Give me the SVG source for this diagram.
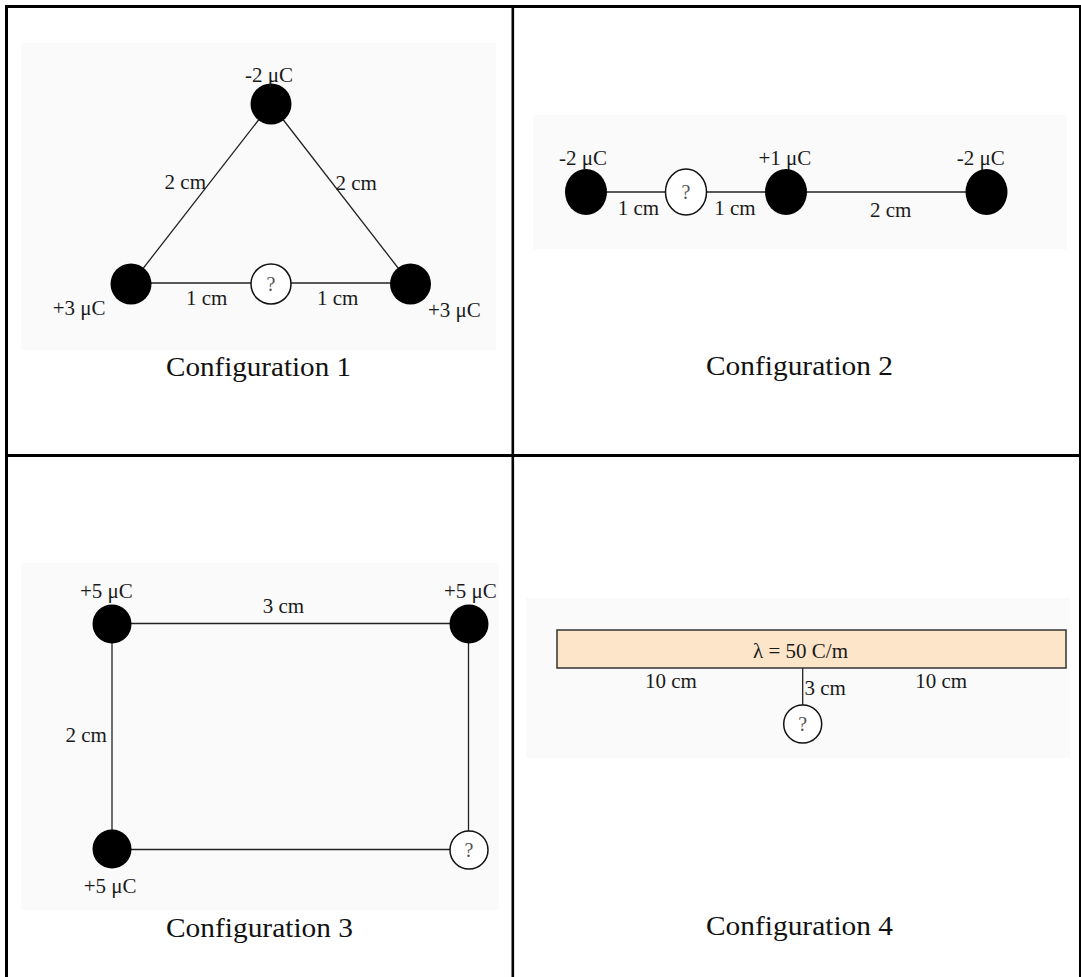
<svg xmlns="http://www.w3.org/2000/svg" width="1081" height="977" viewBox="0 0 1081 977">
<style>
.bg{fill:#fafafa}
.lbl{font-family:"Liberation Serif","Times New Roman",serif;font-size:21px;fill:#1a1a1a}
.q{font-family:"Liberation Serif","Times New Roman",serif;font-size:20px;fill:#555;text-anchor:middle}
.cap{font-family:"Liberation Serif","Palatino Linotype",serif;font-size:28px;fill:#111}
.chg{fill:#000}
.unk{fill:#fff;stroke:#111;stroke-width:1.5}
.wire{stroke:#222;stroke-width:1.3;fill:none}
.grid{stroke:#000;fill:none}
</style>
<rect x="0" y="0" width="1081" height="977" fill="#fff"/>
<g id="table">
<line class="grid" x1="6.5" y1="5" x2="6.5" y2="977" stroke-width="3"/>
<line class="grid" x1="5" y1="6.5" x2="1081" y2="6.5" stroke-width="3"/>
<line class="grid" x1="1080" y1="5" x2="1080" y2="977" stroke-width="2"/>
<line class="grid" x1="512.8" y1="5" x2="512.8" y2="977" stroke-width="2.6"/>
<line class="grid" x1="5" y1="455.5" x2="1081" y2="455.5" stroke-width="3.2"/>
</g>
<g id="backgrounds">
<rect class="bg" x="21" y="43" width="475" height="307"/>
<rect class="bg" x="533" y="115" width="534" height="134"/>
<rect class="bg" x="21" y="563" width="478" height="347"/>
<rect class="bg" x="526" y="598" width="544" height="160"/>
</g>
<g id="connectors">
<line class="wire" x1="271" y1="104" x2="131" y2="284"/>
<line class="wire" x1="271" y1="104" x2="410.5" y2="284"/>
<line class="wire" x1="131" y1="283" x2="410.5" y2="283"/>
<line class="wire" x1="586" y1="192" x2="986.5" y2="192"/>
<line class="wire" x1="112" y1="623.5" x2="469" y2="623.5"/>
<line class="wire" x1="112" y1="849.5" x2="469" y2="849.5"/>
<line class="wire" x1="112" y1="624" x2="112" y2="849"/>
<line class="wire" x1="468.5" y1="624" x2="468.5" y2="850"/>
<line class="wire" x1="802.7" y1="668" x2="802.7" y2="705"/>
</g>
<g id="config1">
<g id="c1-top"><circle class="chg" cx="271" cy="104" r="20.5"/><text class="lbl" x="245" y="82">-2 μC</text></g>
<g id="c1-left"><circle class="chg" cx="131" cy="284" r="20.5"/><text class="lbl" x="52.7" y="315">+3 μC</text></g>
<g id="c1-right"><circle class="chg" cx="410.5" cy="284" r="20.5"/><text class="lbl" x="428" y="316.5">+3 μC</text></g>
<g id="c1-q"><circle class="unk" cx="271" cy="284" r="20"/><text class="q" x="271" y="291">?</text></g>
<text class="lbl" x="164.6" y="189">2 cm</text>
<text class="lbl" x="335.5" y="190">2 cm</text>
<text class="lbl" x="186" y="305">1 cm</text>
<text class="lbl" x="317" y="305">1 cm</text>
<text class="cap" x="166" y="375.7" textLength="185" lengthAdjust="spacingAndGlyphs">Configuration 1</text>
</g>
<g id="config2">
<g id="c2-a"><ellipse class="chg" cx="586" cy="192" rx="21" ry="23"/><text class="lbl" x="559" y="165">-2 μC</text></g>
<g id="c2-q"><ellipse class="unk" cx="686" cy="192" rx="20.5" ry="23"/><text class="q" x="686" y="199">?</text></g>
<g id="c2-b"><ellipse class="chg" cx="786" cy="192" rx="21" ry="23"/><text class="lbl" x="758.5" y="165">+1 μC</text></g>
<g id="c2-c"><ellipse class="chg" cx="986.5" cy="192" rx="21" ry="23"/><text class="lbl" x="956.7" y="165">-2 μC</text></g>
<text class="lbl" x="617.7" y="215">1 cm</text>
<text class="lbl" x="714.3" y="215">1 cm</text>
<text class="lbl" x="870" y="216.5">2 cm</text>
<text class="cap" x="706" y="375" textLength="187" lengthAdjust="spacingAndGlyphs">Configuration 2</text>
</g>
<g id="config3">
<g id="c3-tl"><circle class="chg" cx="112" cy="624" r="19.5"/><text class="lbl" x="80" y="598">+5 μC</text></g>
<g id="c3-tr"><circle class="chg" cx="469" cy="624" r="19.5"/><text class="lbl" x="444" y="598">+5 μC</text></g>
<g id="c3-bl"><circle class="chg" cx="112" cy="849" r="19.5"/><text class="lbl" x="83.7" y="893.3">+5 μC</text></g>
<g id="c3-q"><circle class="unk" cx="469" cy="850" r="19"/><text class="q" x="469" y="857">?</text></g>
<text class="lbl" x="262.7" y="612.7">3 cm</text>
<text class="lbl" x="65.4" y="741.7">2 cm</text>
<text class="cap" x="166" y="937.3" textLength="187" lengthAdjust="spacingAndGlyphs">Configuration 3</text>
</g>
<g id="config4">
<g id="c4-rod"><rect x="557" y="630" width="509" height="38" fill="#fce5c8" stroke="#333" stroke-width="1.5"/><text class="lbl" x="800.5" y="658" text-anchor="middle">λ = 50 C/m</text></g>
<g id="c4-q"><circle class="unk" cx="802.7" cy="724" r="19"/><text class="q" x="802.7" y="731">?</text></g>
<text class="lbl" x="645" y="688.3">10 cm</text>
<text class="lbl" x="804.5" y="695">3 cm</text>
<text class="lbl" x="915.3" y="688">10 cm</text>
<text class="cap" x="706" y="935" textLength="187" lengthAdjust="spacingAndGlyphs">Configuration 4</text>
</g>
</svg>
